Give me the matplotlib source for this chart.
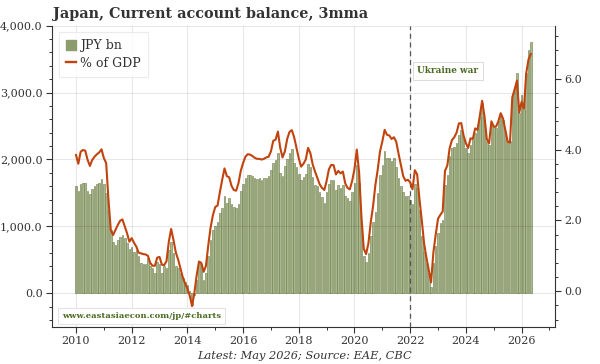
import matplotlib

matplotlib.use("Agg")
import matplotlib.pyplot as plt
import numpy as np
from matplotlib.lines import Line2D
from matplotlib.patches import Patch
from matplotlib.ticker import FuncFormatter, MultipleLocator

# monthly data, Jan 2010 .. May 2026
start_year = 2010

jpy_bn = [
    1600, 1535, 1635, 1655, 1655, 1535, 1485, 1555, 1605, 1635, 1655, 1705,  # 2010
    1635, 1500, 1250, 950, 760, 720, 800, 840, 870, 830, 750, 660,  # 2011
    690, 620, 640, 560, 450, 440, 430, 530, 410, 380, 310, 470,  # 2012
    430, 310, 400, 380, 640, 760, 600, 400, 370, 300, 230, 170,  # 2013
    130, 40, -170, -20, 200, 450, 430, 200, 300, 550, 800, 950,  # 2014
    1000, 1070, 1200, 1280, 1450, 1350, 1430, 1330, 1290, 1280, 1330, 1530,  # 2015
    1640, 1720, 1770, 1770, 1760, 1720, 1710, 1720, 1700, 1720, 1720, 1760,  # 2016
    1850, 1950, 1990, 2100, 1800, 1760, 1900, 2000, 2090, 2150, 1950, 1880,  # 2017
    1790, 1690, 1740, 1790, 1930, 1880, 1740, 1620, 1600, 1520, 1440, 1350,  # 2018
    1520, 1640, 1700, 1690, 1540, 1620, 1580, 1620, 1450, 1420, 1380, 1520,  # 2019
    1650, 1910, 1650, 1000, 560, 470, 600, 850, 1070, 1220, 1500, 1770,  # 2020
    1920, 2120, 2020, 2020, 1970, 2020, 1890, 1720, 1600, 1520, 1450, 1450,  # 2021
    1400, 1340, 1640, 1570, 1250, 850, 620, 450, 300, 100, 450, 700,  # 2022
    900, 1050, 1100, 1620, 1770, 2050, 2170, 2190, 2240, 2370, 2440, 2320,  # 2023
    2170, 2090, 2220, 2290, 2390, 2470, 2640, 2840, 2590, 2270, 2220, 2540,  # 2024
    2490, 2470, 2570, 2670, 2590, 2390, 2270, 2270, 2970, 3090, 3290, 2690,  # 2025
    2970, 2740, 3290, 3640, 3760,  # 2026
]

pct_gdp = [
    3.85, 3.60, 3.94, 3.99, 3.97, 3.71, 3.54, 3.71, 3.80, 3.87, 3.92, 4.01,
    3.76, 3.62, 2.58, 1.73, 1.59, 1.73, 1.87, 1.99, 2.03, 1.83, 1.64, 1.40,
    1.50, 1.37, 1.26, 1.09, 1.07, 1.05, 1.04, 1.00, 0.80, 0.72, 0.72, 0.95,
    0.97, 0.75, 0.74, 0.85, 1.40, 1.76, 1.45, 1.10, 0.90, 0.65, 0.40, 0.22,
    0.08, -0.12, -0.42, -0.05, 0.45, 0.84, 0.80, 0.55, 0.72, 1.30, 1.80, 2.15,
    2.38, 2.42, 2.80, 3.15, 3.47, 3.25, 3.22, 2.98, 2.86, 2.84, 3.05, 3.40,
    3.62, 3.80, 3.87, 3.86, 3.82, 3.77, 3.74, 3.74, 3.72, 3.74, 3.78, 3.80,
    3.95, 4.25, 4.28, 4.51, 4.05, 3.78, 3.95, 4.30, 4.50, 4.55, 4.35, 4.05,
    3.75, 3.52, 3.60, 3.72, 4.05, 3.90, 3.58, 3.38, 3.20, 3.02, 2.92, 2.86,
    3.12, 3.45, 3.57, 3.56, 3.30, 3.40, 3.33, 3.38, 3.05, 2.92, 2.88, 3.12,
    3.45, 4.00, 3.35, 2.10, 1.20, 1.05, 1.35, 1.95, 2.40, 3.00, 3.43, 3.95,
    4.23, 4.56, 4.42, 4.40, 4.30, 4.35, 4.22, 3.88, 3.57, 3.25, 3.12, 3.15,
    3.08, 2.88, 3.42, 3.30, 2.60, 2.00, 1.35, 0.95, 0.60, 0.25, 1.10, 1.60,
    2.05, 2.16, 2.25, 3.40, 3.55, 4.04, 4.27, 4.35, 4.48, 4.74, 4.75, 4.40,
    4.18, 4.05, 4.32, 4.30, 4.60, 4.56, 4.95, 5.38, 4.95, 4.30, 4.18, 4.80,
    4.65, 4.65, 4.80, 5.03, 4.88, 4.55, 4.23, 4.20, 5.48, 5.70, 5.95, 5.05,
    5.35, 5.15, 6.16, 6.55, 6.70,
]

year_ticks = [2010, 2012, 2014, 2016, 2018, 2020, 2022, 2024, 2026]
event_year = 2022
event_label = "Ukraine war"

BAR_FACE = "#a9b791"
BAR_EDGE = "#6c7e42"
LINE_C = "#c1440e"
TXT = "#333333"
GREEN_TXT = "#4b6a22"
SERIF = "DejaVu Serif"

plt.rcParams["font.family"] = SERIF

t = start_year + np.arange(len(jpy_bn)) / 12.0

fig = plt.figure(figsize=(6.0, 3.64), dpi=100)
ax = fig.add_axes([0.0872, 0.1025, 0.8378, 0.8269])
ax2 = ax.twinx()

ax.bar(t, jpy_bn, width=0.056, color=BAR_FACE, edgecolor=BAR_EDGE, linewidth=0.4, zorder=2)
ax2.plot(t, pct_gdp, color=LINE_C, lw=1.5, zorder=3, solid_joinstyle="round")

ax.set_xlim(2009.15, 2027.2)
ax.set_ylim(-500, 4000)
ax2.set_ylim(-1.0, 7.5)

ax.set_xticks(year_ticks)
ax.xaxis.set_minor_locator(MultipleLocator(1))
ax.yaxis.set_major_locator(MultipleLocator(1000))
ax.yaxis.set_minor_locator(MultipleLocator(200))
ax.yaxis.set_major_formatter(FuncFormatter(lambda v, _: f"{v:,.1f}"))
ax2.yaxis.set_major_locator(MultipleLocator(2))
ax2.yaxis.set_minor_locator(MultipleLocator(0.4))
ax2.yaxis.set_major_formatter(FuncFormatter(lambda v, _: f"{v:.1f}"))

ax.grid(True, which="major", color="black", alpha=0.09, lw=0.8, zorder=2.5)
ax.set_axisbelow(False)

for a in (ax, ax2):
    a.tick_params(which="major", direction="out", length=4, width=0.8, colors=TXT,
                  labelsize=8, pad=3)
    a.tick_params(which="minor", direction="out", length=2.5, width=0.7, colors=TXT)
    for s in a.spines.values():
        s.set_color(TXT)
        s.set_linewidth(0.8)
    a.spines["top"].set_visible(False)
ax.spines["right"].set_visible(False)
ax2.spines["left"].set_visible(False)
ax2.spines["bottom"].set_visible(False)

ax.axvline(event_year, color="#555555", lw=0.9, ls=(0, (4, 3)), zorder=4)
ax2.text(2023.36, 6.23, event_label, fontsize=6.4, fontweight="bold", color=GREEN_TXT,
         ha="center", va="center", zorder=6,
         bbox=dict(boxstyle="square,pad=0.5", fc="white", ec="#dddddd", lw=0.8))

ax2.text(2009.5, -0.70, "www.eastasiaecon.com/jp/#charts", fontsize=6.0, fontweight="bold",
         color=GREEN_TXT, ha="left", va="center", zorder=6,
         bbox=dict(boxstyle="square,pad=0.5", fc="white", ec="#e3e3e3", lw=0.8))

handles = [
    Patch(facecolor="#8c9c6c", edgecolor="#8c9c6c"),
    Line2D([0], [0], color=LINE_C, lw=1.7),
]
leg = ax2.legend(handles, ["JPY bn", "% of GDP"], loc="upper left", bbox_to_anchor=(0.0, 1.0),
                 fontsize=9, frameon=True, fancybox=False, handlelength=0.8, handleheight=0.8,
                 handletextpad=0.3, borderpad=0.6, labelspacing=0.35, borderaxespad=0.5)
leg.get_frame().set_edgecolor("#e6e6e6")
leg.get_frame().set_linewidth(0.8)
for txt in leg.get_texts():
    txt.set_color(TXT)

fig.text(0.088, 0.962, "Japan, Current account balance, 3mma", fontsize=10.4, fontweight="bold",
         color=TXT, ha="left", va="center")
fig.text(0.508, 0.022, "Latest: May 2026; Source: EAE, CBC", fontsize=8.2, style="italic",
         color=TXT, ha="center", va="center")

fig.savefig("out.png", dpi=100)
